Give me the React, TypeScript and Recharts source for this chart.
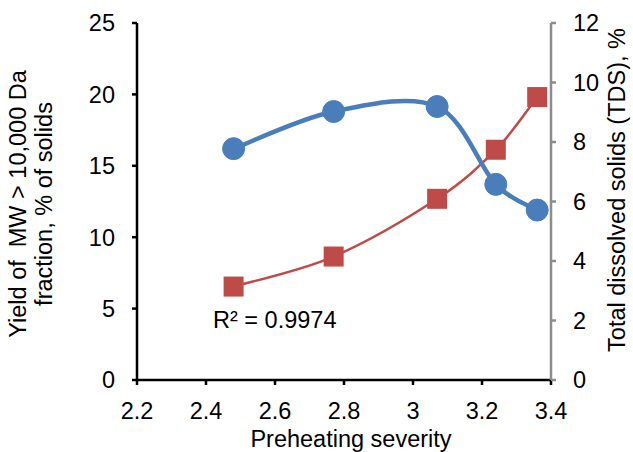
import React from 'react';
import { ComposedChart, Line, XAxis, YAxis } from 'recharts';

// preheating severity (x) and the two measured series
const severity = [2.48, 2.77, 3.07, 3.24, 3.36];
const yieldHmw = [16.2, 18.8, 19.15, 13.7, 11.9]; // % of solids, left axis
const tds = [3.14, 4.15, 6.09, 7.74, 9.51]; // %, right axis

const xTicks = [2.2, 2.4, 2.6, 2.8, 3, 3.2, 3.4];
const leftTicks = [0, 5, 10, 15, 20, 25];
const rightTicks = [0, 2, 4, 6, 8, 10, 12];

const data = severity.map((x, i) => ({ x, yield: yieldHmw[i], tds: tds[i] }));

const FONT = '"Liberation Sans", Arial, sans-serif';
const FS = 23.5;
const BLUE = '#4a7ebb';
const RED = '#be4b48';

// Excel-like smoothed line (Catmull-Rom through the points)
const smooth = (ctx: any) => {
  let pts: number[][] = [];
  return {
    areaStart() {},
    areaEnd() {},
    lineStart() { pts = []; },
    point(x: number, y: number) { pts.push([+x, +y]); },
    lineEnd() {
      const n = pts.length;
      if (!n) return;
      ctx.moveTo(pts[0][0], pts[0][1]);
      for (let i = 0; i < n - 1; i++) {
        const p0 = pts[Math.max(i - 1, 0)];
        const p1 = pts[i];
        const p2 = pts[i + 1];
        const p3 = pts[Math.min(i + 2, n - 1)];
        ctx.bezierCurveTo(
          p1[0] + (p2[0] - p0[0]) / 6, p1[1] + (p2[1] - p0[1]) / 6,
          p2[0] - (p3[0] - p1[0]) / 6, p2[1] - (p3[1] - p1[1]) / 6,
          p2[0], p2[1],
        );
      }
    },
  };
};

const SquareDot = (props: any) => {
  const { cx, cy, index } = props;
  if (cx == null || cy == null) return null;
  return <rect key={`sq-${index}`} x={cx - 10} y={cy - 10} width={20} height={20} fill={RED} />;
};

const LeftTitle = () => (
  <text fontFamily={FONT} fontSize={FS} fill="#000" textAnchor="middle" transform="translate(30,204) rotate(-90)">
    <tspan x={0} dy={-4}>{'Yield of\u00a0\u00a0MW > 10,000 Da'}</tspan>
    <tspan x={0} dy={26}>fraction, % of solids</tspan>
  </text>
);

const RightTitle = () => (
  <text fontFamily={FONT} fontSize={FS} fill="#000" textAnchor="middle" dominantBaseline="central"
    transform="translate(617,190) rotate(-90)">
    Total dissolved solids (TDS), %
  </text>
);

const XTitle = () => (
  <text x={351} y={447} fontFamily={FONT} fontSize={FS} fill="#000" textAnchor="middle">
    Preheating severity
  </text>
);

export default function App() {
  const tick = { fontSize: FS, fill: '#000', fontFamily: FONT };
  return (
    <div style={{ position: 'absolute', left: 0, top: 0, width: 633, height: 452, background: '#fff' }}>
      <ComposedChart width={633} height={452} data={data} margin={{ top: 23, right: 22, bottom: 22, left: 57 }}>
        <XAxis
          dataKey="x"
          type="number"
          domain={[2.2, 3.4]}
          ticks={xTicks}
          tickFormatter={(v) => String(v)}
          tick={tick}
          axisLine={{ stroke: '#000', strokeWidth: 2.5 }}
          tickLine={{ stroke: '#000', strokeWidth: 2.5 }}
          tickSize={5}
          tickMargin={17}
          height={50}
          interval={0}
          allowDataOverflow
        />
        <YAxis
          yAxisId="left"
          domain={[0, 25]}
          ticks={leftTicks}
          tick={tick}
          axisLine={{ stroke: '#000', strokeWidth: 2.5 }}
          tickLine={{ stroke: '#000', strokeWidth: 2.5 }}
          tickSize={5}
          tickMargin={17}
          width={80}
          interval={0}
        />
        <YAxis
          yAxisId="right"
          orientation="right"
          domain={[0, 12]}
          ticks={rightTicks}
          tick={tick}
          axisLine={{ stroke: '#8c8c8c', strokeWidth: 2.5 }}
          tickLine={{ stroke: '#8c8c8c', strokeWidth: 2.5 }}
          tickSize={5}
          tickMargin={17}
          width={60}
          interval={0}
        />
        <Line
          yAxisId="right"
          dataKey="tds"
          type={smooth as any}
          stroke={RED}
          strokeWidth={2.5}
          dot={SquareDot}
          activeDot={false}
          isAnimationActive={false}
        />
        <Line
          yAxisId="left"
          dataKey="yield"
          type={smooth as any}
          stroke={BLUE}
          strokeWidth={4.5}
          dot={{ r: 11, fill: BLUE, stroke: BLUE, strokeWidth: 1 }}
          activeDot={false}
          isAnimationActive={false}
        />
        <LeftTitle />
        <RightTitle />
        <XTitle />
        <text x={213} y={328} fontFamily={FONT} fontSize={FS} fill="#000">R² = 0.9974</text>
      </ComposedChart>
    </div>
  );
}
